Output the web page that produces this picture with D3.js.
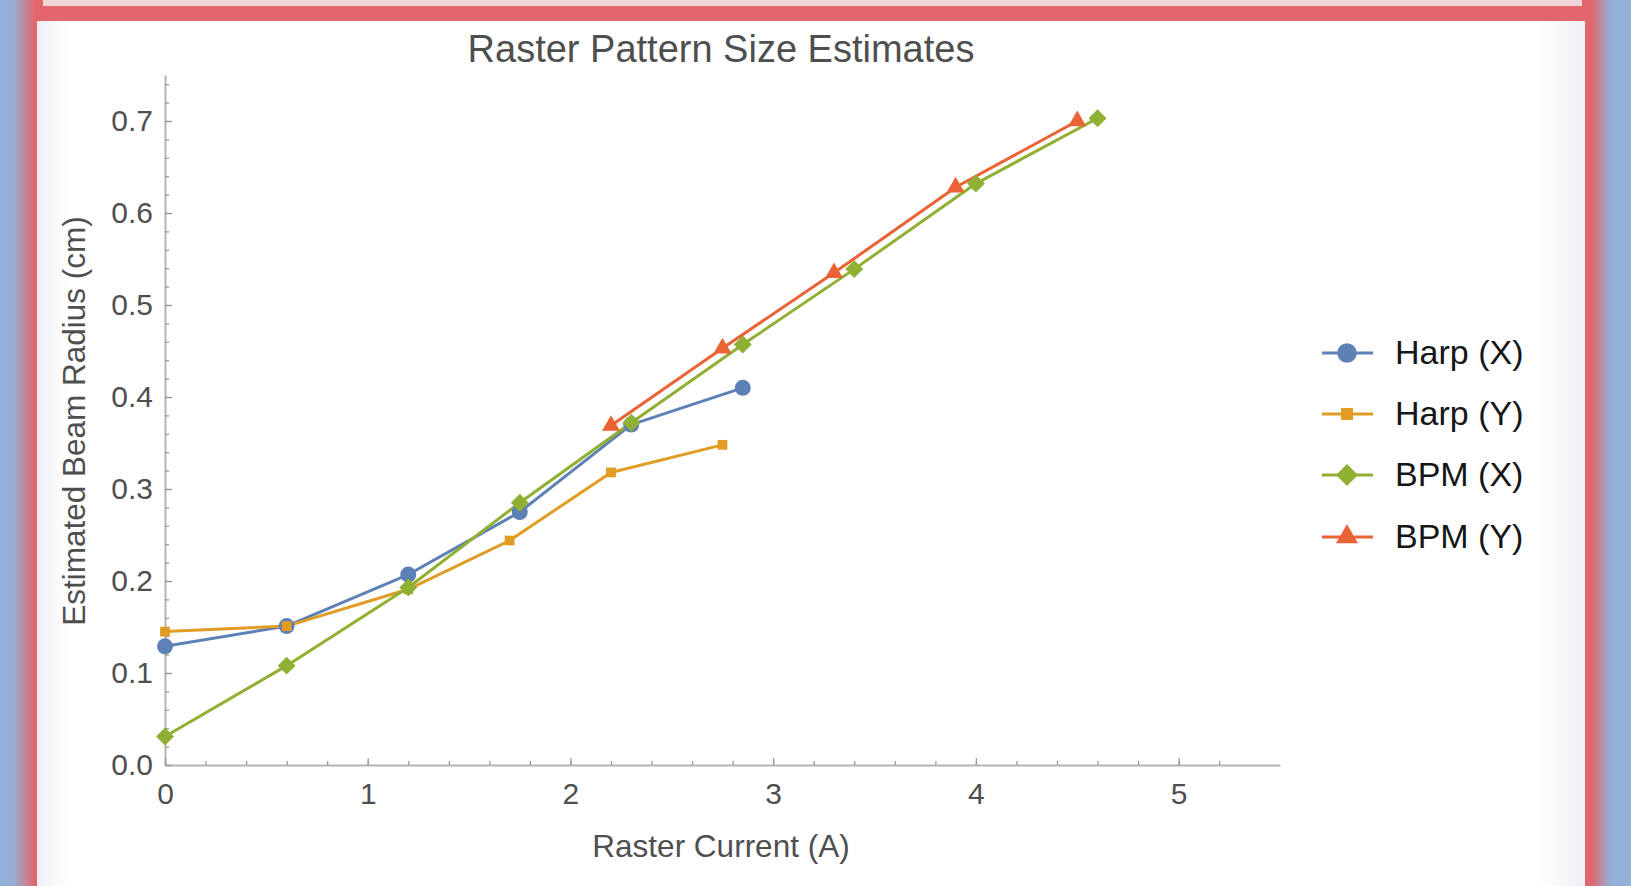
<!DOCTYPE html>
<html>
<head>
<meta charset="utf-8">
<script src="https://cdn.jsdelivr.net/npm/d3@7"></script>
<style>
	html, body { margin: 0; padding: 0; background: #91b1d9; overflow: hidden; }
	svg { display: block; }
	text { font-family: "Liberation Sans", Arial, Helvetica, sans-serif; }
</style>
</head>
<body>
<div class="graphic"></div>
<script>

// values
var seriesNames = ['Harp (X)', 'Harp (Y)', 'BPM (X)', 'BPM (Y)'];

var harpXCurrent = [0, 0.6, 1.2, 1.75, 2.3, 2.85];
var harpXRadius = [0.129, 0.151, 0.207, 0.275, 0.370, 0.410];

var harpYCurrent = [0, 0.6, 1.2, 1.7, 2.2, 2.75];
var harpYRadius = [0.145, 0.151, 0.191, 0.244, 0.318, 0.348];

var bpmXCurrent = [0, 0.6, 1.2, 1.75, 2.3, 2.85, 3.4, 4.0, 4.6];
var bpmXRadius = [0.031, 0.108, 0.193, 0.285, 0.372, 0.457, 0.539, 0.632, 0.703];

var bpmYCurrent = [2.2, 2.75, 3.3, 3.9, 4.5];
var bpmYRadius = [0.369, 0.453, 0.535, 0.628, 0.700];

var xTickValues = [0, 1, 2, 3, 4, 5];
var xTickLabels = ['0', '1', '2', '3', '4', '5'];
var yTickValues = [0, 0.1, 0.2, 0.3, 0.4, 0.5, 0.6, 0.7];
var yTickLabels = ['0.0', '0.1', '0.2', '0.3', '0.4', '0.5', '0.6', '0.7'];

var colors = ['#5e81b5', '#e19c24', '#8fb032', '#eb6235'];

function pairs(xs, ys) {
	return xs.map(function(x, i) { return {x: x, y: ys[i]}; });
}

var series = [
	{name: seriesNames[0], points: pairs(harpXCurrent, harpXRadius), shape: 'circle'},
	{name: seriesNames[1], points: pairs(harpYCurrent, harpYRadius), shape: 'square'},
	{name: seriesNames[2], points: pairs(bpmXCurrent, bpmXRadius), shape: 'diamond'},
	{name: seriesNames[3], points: pairs(bpmYCurrent, bpmYRadius), shape: 'triangle'}
];

var width = 1631;
var height = 886;

var svg = d3.select('.graphic').append('svg')
	.attr('width', width)
	.attr('height', height)
	.attr('viewBox', '0 0 ' + width + ' ' + height);

// slide frame round the chart
var defs = svg.append('defs');

var leftGrad = defs.append('linearGradient').attr('id', 'leftEdge')
	.attr('x1', 0).attr('x2', 1).attr('y1', 0).attr('y2', 0);
leftGrad.append('stop').attr('offset', '0%').attr('stop-color', '#91b1d9');
leftGrad.append('stop').attr('offset', '35%').attr('stop-color', '#98add2');
leftGrad.append('stop').attr('offset', '88%').attr('stop-color', '#e3666c');
leftGrad.append('stop').attr('offset', '100%').attr('stop-color', '#e3666c');

var rightGrad = defs.append('linearGradient').attr('id', 'rightEdge')
	.attr('x1', 0).attr('x2', 1).attr('y1', 0).attr('y2', 0);
rightGrad.append('stop').attr('offset', '0%').attr('stop-color', '#e3666c');
rightGrad.append('stop').attr('offset', '30%').attr('stop-color', '#e3666c');
rightGrad.append('stop').attr('offset', '100%').attr('stop-color', '#91b1d9');

var panelGrad = defs.append('linearGradient').attr('id', 'panelShade')
	.attr('x1', 0).attr('x2', 1).attr('y1', 0).attr('y2', 0);
panelGrad.append('stop').attr('offset', '0%').attr('stop-color', '#eef0f5');
panelGrad.append('stop').attr('offset', '2%').attr('stop-color', '#ffffff');
panelGrad.append('stop').attr('offset', '97%').attr('stop-color', '#ffffff');
panelGrad.append('stop').attr('offset', '100%').attr('stop-color', '#eef0f5');

svg.append('rect').attr('x', 0).attr('y', 0).attr('width', 40).attr('height', height)
	.attr('fill', 'url(#leftEdge)');
svg.append('rect').attr('x', 1583).attr('y', 0).attr('width', 28).attr('height', height)
	.attr('fill', 'url(#rightEdge)');
svg.append('rect').attr('x', 36).attr('y', 0).attr('width', 1551).attr('height', 22)
	.attr('fill', '#e3666c');
svg.append('rect').attr('x', 43).attr('y', 0).attr('width', 1539).attr('height', 6)
	.attr('fill', '#f2d3d6');
svg.append('rect').attr('x', 37).attr('y', 21).attr('width', 1548).attr('height', height - 21)
	.attr('fill', 'url(#panelShade)');

// plot
var x = d3.scaleLinear().domain([0, 5.5]).range([165, 1280]);
var y = d3.scaleLinear().domain([0, 0.75]).range([765, 75]);

var axisColor = '#b4b4b4';
var labelColor = '#4f4f4f';

function styleAxis(g) {
	g.select('.domain').attr('stroke', axisColor).attr('stroke-width', 2);
	g.selectAll('.tick line').attr('stroke', '#9a9a9a').attr('stroke-width', 1.3);
	g.selectAll('.tick text')
		.attr('fill', labelColor)
		.style('font-size', '30px');
}

// minor ticks first, majors on top
svg.append('g')
	.attr('transform', 'translate(0,' + y(0) + ')')
	.call(d3.axisBottom(x)
		.tickValues(d3.range(0, 27).map(function(i) { return i * 0.2; }))
		.tickSizeInner(-4).tickSizeOuter(0).tickFormat(''))
	.call(styleAxis);

svg.append('g')
	.attr('transform', 'translate(' + x(0) + ',0)')
	.call(d3.axisLeft(y)
		.tickValues(d3.range(0, 38).map(function(i) { return i * 0.02; }))
		.tickSizeInner(-4).tickSizeOuter(0).tickFormat(''))
	.call(styleAxis);

svg.append('g')
	.attr('transform', 'translate(0,' + y(0) + ')')
	.call(d3.axisBottom(x)
		.tickValues(xTickValues)
		.tickSizeInner(-7).tickSizeOuter(0).tickPadding(18)
		.tickFormat(function(d, i) { return xTickLabels[i]; }))
	.call(styleAxis)
	.call(function(g) { g.select('.domain').remove(); });

svg.append('g')
	.attr('transform', 'translate(' + x(0) + ',0)')
	.call(d3.axisLeft(y)
		.tickValues(yTickValues)
		.tickSizeInner(-7).tickSizeOuter(0).tickPadding(12)
		.tickFormat(function(d, i) { return yTickLabels[i]; }))
	.call(styleAxis)
	.call(function(g) { g.select('.domain').remove(); });

// titles
svg.append('text')
	.attr('x', 721).attr('y', 62)
	.attr('text-anchor', 'middle')
	.attr('fill', '#4f4f4f')
	.style('font-size', '38px')
	.text('Raster Pattern Size Estimates');

svg.append('text')
	.attr('x', 721).attr('y', 857)
	.attr('text-anchor', 'middle')
	.attr('fill', labelColor)
	.style('font-size', '31.5px')
	.text('Raster Current (A)');

svg.append('text')
	.attr('transform', 'translate(85,421) rotate(-90)')
	.attr('text-anchor', 'middle')
	.attr('fill', labelColor)
	.style('font-size', '31.5px')
	.text('Estimated Beam Radius (cm)');

// marker shapes
function symbolPath(shape, big) {
	var k = big ? 1.5 : 1;
	if (shape === 'circle') return d3.symbol(d3.symbolCircle, 200 * k)();
	if (shape === 'square') return d3.symbol(d3.symbolSquare, 95 * k)();
	if (shape === 'diamond') return d3.symbol(d3.symbolSquare, 160 * k)();
	return d3.symbol(d3.symbolTriangle, 140 * k)();
}
function symbolRotate(shape) {
	return shape === 'diamond' ? ' rotate(45)' : '';
}

var line = d3.line()
	.x(function(d) { return x(d.x); })
	.y(function(d) { return y(d.y); });

var plot = svg.append('g');

plot.selectAll('path.series')
	.data(series)
	.enter()
	.append('path')
	.attr('class', 'series')
	.attr('d', function(d) { return line(d.points); })
	.attr('fill', 'none')
	.attr('stroke', function(d, i) { return colors[i]; })
	.attr('stroke-width', 3)
	.attr('stroke-linejoin', 'round');

series.forEach(function(s, i) {
	plot.selectAll('path.marker' + i)
		.data(s.points)
		.enter()
		.append('path')
		.attr('class', 'marker' + i)
		.attr('d', symbolPath(s.shape, false))
		.attr('transform', function(d) {
			return 'translate(' + x(d.x) + ',' + y(d.y) + ')' + symbolRotate(s.shape);
		})
		.attr('fill', colors[i]);
});

// legend
var legend = svg.append('g');
var legendRows = [353, 414, 475, 537];

series.forEach(function(s, i) {
	var row = legend.append('g').attr('transform', 'translate(0,' + legendRows[i] + ')');
	row.append('line')
		.attr('x1', 1322).attr('x2', 1373)
		.attr('y1', 0).attr('y2', 0)
		.attr('stroke', colors[i])
		.attr('stroke-width', 3);
	row.append('path')
		.attr('d', symbolPath(s.shape, true))
		.attr('transform', 'translate(1347,0)' + symbolRotate(s.shape))
		.attr('fill', colors[i]);
	row.append('text')
		.attr('x', 1395).attr('y', 0)
		.attr('dy', '0.33em')
		.attr('fill', '#161616')
		.style('font-size', '34px')
		.text(s.name);
});

</script>
</body>
</html>
